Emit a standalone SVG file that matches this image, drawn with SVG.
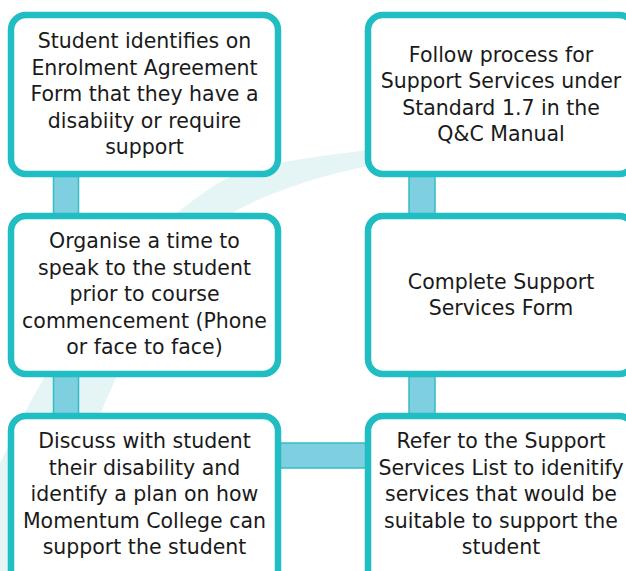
<svg xmlns="http://www.w3.org/2000/svg" width="626" height="571" viewBox="0 0 626 571">
<style>
.node rect{fill:#ffffff;stroke:#20bdc3;stroke-width:6.5}
.bar{fill:#7ecfdf;stroke:#35bcc7;stroke-width:1.5}
.t{font-family:"DejaVu Sans",sans-serif;font-size:20.5px;fill:#1a1a1a;text-anchor:middle}
</style>
<rect x="0" y="0" width="626" height="571" fill="#ffffff"/>
<path id="swoosh" d="M -40,560 C 20,400 100,260 215,185 C 255,160 320,158 400,145 L 640,100 L 640,125 L 400,160 C 330,172 280,188 237,210 C 180,245 140,320 100,415 L 20,600 Z" fill="#e5f5f6"/>
<g id="connectors">
<rect class="bar" x="53.5" y="168" width="25" height="52"/>
<rect class="bar" x="53.5" y="368" width="25" height="52"/>
<rect class="bar" x="409" y="168" width="26" height="52"/>
<rect class="bar" x="409" y="368" width="26" height="52"/>
<rect class="bar" x="272" y="443" width="100" height="25"/>
</g>
<g id="n1" class="node">
<rect x="11" y="15" width="267" height="159" rx="15"/>
<text class="t" x="144.5" y="48"><tspan x="144.5">Student identifies on</tspan><tspan x="144.5" dy="26.6">Enrolment Agreement</tspan><tspan x="144.5" dy="26.6">Form that they have a</tspan><tspan x="144.5" dy="26.6">disabiity or require</tspan><tspan x="144.5" dy="26.6">support</tspan></text>
</g>
<g id="n2" class="node">
<rect x="368" y="15" width="266" height="159" rx="15"/>
<text class="t" x="501" y="61.5"><tspan x="501">Follow process for</tspan><tspan x="501" dy="26.6">Support Services under</tspan><tspan x="501" dy="26.6">Standard 1.7 in the</tspan><tspan x="501" dy="26.6">Q&amp;C Manual</tspan></text>
</g>
<g id="n3" class="node">
<rect x="11" y="216" width="267" height="158" rx="15"/>
<text class="t" x="144.5" y="248"><tspan x="144.5">Organise a time to</tspan><tspan x="144.5" dy="26.6">speak to the student</tspan><tspan x="144.5" dy="26.6">prior to course</tspan><tspan x="144.5" dy="26.6">commencement (Phone</tspan><tspan x="144.5" dy="26.6">or face to face)</tspan></text>
</g>
<g id="n4" class="node">
<rect x="368" y="216" width="266" height="158" rx="15"/>
<text class="t" x="501" y="288.5"><tspan x="501">Complete Support</tspan><tspan x="501" dy="26.6">Services Form</tspan></text>
</g>
<g id="n5" class="node">
<rect x="11" y="416" width="267" height="170" rx="15"/>
<text class="t" x="144.5" y="448"><tspan x="144.5">Discuss with student</tspan><tspan x="144.5" dy="26.6">their disability and</tspan><tspan x="144.5" dy="26.6">identify a plan on how</tspan><tspan x="144.5" dy="26.6">Momentum College can</tspan><tspan x="144.5" dy="26.6">support the student</tspan></text>
</g>
<g id="n6" class="node">
<rect x="368" y="416" width="266" height="170" rx="15"/>
<text class="t" x="501" y="448"><tspan x="501">Refer to the Support</tspan><tspan x="501" dy="26.6">Services List to idenitify</tspan><tspan x="501" dy="26.6">services that would be</tspan><tspan x="501" dy="26.6">suitable to support the</tspan><tspan x="501" dy="26.6">student</tspan></text>
</g>
</svg>
